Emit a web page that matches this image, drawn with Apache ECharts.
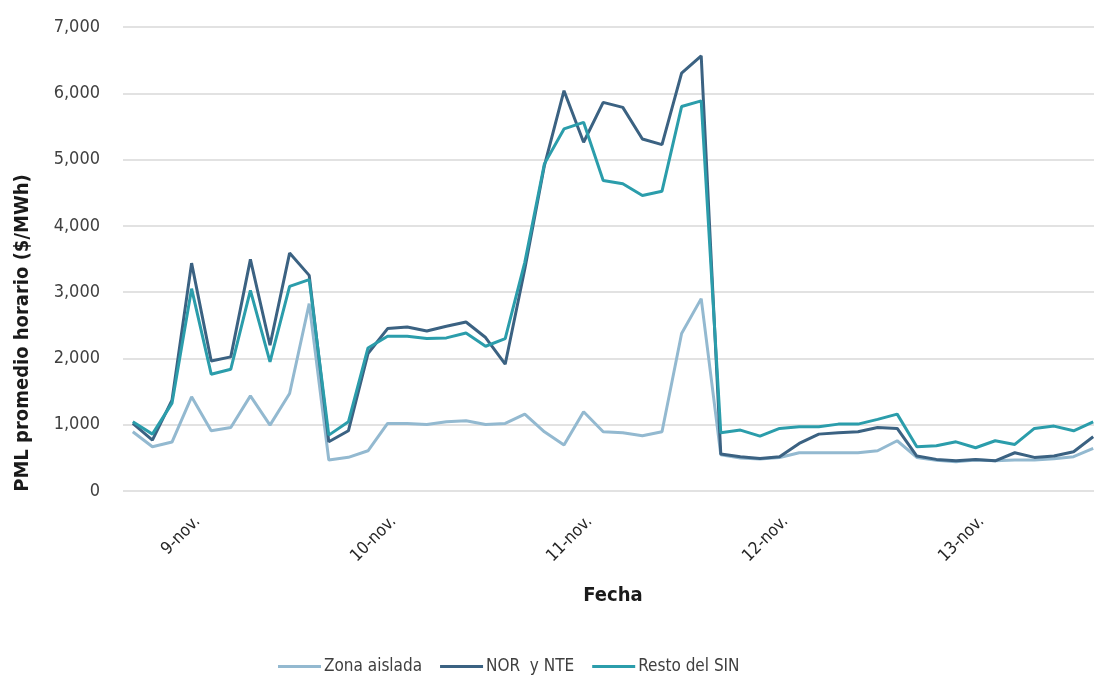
<!DOCTYPE html>
<html>
<head>
<meta charset="utf-8">
<script src="https://cdn.jsdelivr.net/npm/echarts@6/dist/echarts.min.js"></script>
<style>html,body{margin:0;padding:0;background:#fff;}#c{width:1094px;height:675px;}</style>
</head>
<body>
<div id="c"></div>
<script>
// Day labels and number of readings per day
const days = ['9-nov.', '10-nov.', '11-nov.', '12-nov.', '13-nov.'];
const perDay = 10;
const labelOffset = 3;
const yTicks = [0, 1000, 2000, 3000, 4000, 5000, 6000, 7000];

const zonaAislada = [893, 667, 738, 1420, 908, 959, 1435, 994, 1471, 2827,
  467, 508, 607, 1019, 1019, 1004, 1044, 1059, 1004, 1019,
  1160, 893, 693, 1195, 893, 878, 833, 893, 2375, 2902,
  545, 497, 482, 505, 577, 577, 577, 577, 607, 758,
  507, 462, 442, 467, 456, 467, 467, 487, 517, 643];
const norNte = [1020, 768, 1370, 3438, 1962, 2023, 3494, 2199, 3589, 3253,
  742, 908, 2074, 2450, 2475, 2414, 2485, 2550, 2315, 1913,
  3350, 4910, 6039, 5261, 5863, 5788, 5311, 5226, 6305, 6566,
  557, 517, 492, 517, 718, 858, 878, 893, 959, 944,
  527, 477, 456, 477, 456, 577, 507, 527, 592, 818];
const restoSin = [1044, 858, 1325, 3053, 1762, 1837, 3027, 1947, 3087, 3188,
  843, 1044, 2158, 2334, 2334, 2300, 2310, 2384, 2184, 2300,
  3450, 4935, 5462, 5562, 4684, 4634, 4458, 4523, 5800, 5886,
  878, 919, 828, 944, 968, 968, 1009, 1009, 1080, 1160,
  667, 682, 742, 652, 758, 703, 944, 979, 908, 1044];

const categories = [];
days.forEach(d => { for (let k = 0; k < perDay; k++) categories.push(d + '|' + k); });

const font = "'Liberation Sans Narrow', 'DejaVu Sans Condensed', 'Liberation Sans', sans-serif";
const colors = ['#93b9d0', '#3b6282', '#2b9dab'];

const chart = echarts.init(document.getElementById('c'), null, {renderer: 'canvas'});
chart.setOption({
  animation: false,
  color: colors,
  textStyle: {fontFamily: font},
  grid: {left: 123, top: 27, width: 980, height: 464, containLabel: false, outerBoundsMode: 'none'},
  legend: {
    left: 273, top: 653,
    icon: 'rect', itemWidth: 43, itemHeight: 3, itemGap: 18,
    textStyle: {fontFamily: font, fontSize: 17, color: '#404040', padding: [0, 0, 0, -2]},
    data: ['Zona aislada', 'NOR  y NTE', 'Resto del SIN']
  },
  xAxis: {
    type: 'category',
    data: categories,
    boundaryGap: true,
    name: 'Fecha',
    nameLocation: 'middle',
    nameGap: 95,
    nameTextStyle: {fontFamily: font, fontSize: 20, fontWeight: 'bold', color: '#1a1a1a'},
    axisLine: {show: false},
    axisTick: {show: false},
    axisLabel: {
      interval: (i) => i % perDay === labelOffset,
      rotate: 45,
      margin: 22,
      fontSize: 17,
      color: '#262626',
      fontFamily: font,
      verticalAlign: 'top',
      formatter: (v) => v.split('|')[0]
    },
    splitLine: {show: false}
  },
  yAxis: {
    type: 'value',
    min: yTicks[0], max: yTicks[yTicks.length - 1], interval: 1000,
    name: 'PML promedio horario ($/MWh)',
    nameLocation: 'middle',
    nameGap: 90,
    nameTextStyle: {fontFamily: font, fontSize: 20, fontWeight: 'bold', color: '#1a1a1a', padding: [0, 148, 0, 0]},
    axisLine: {show: false},
    axisTick: {show: false},
    axisLabel: {
      margin: 23, fontSize: 18, color: '#404040', fontFamily: font,
      formatter: (v) => v.toLocaleString('en-US')
    },
    splitLine: {lineStyle: {color: '#d9d9d9', width: 1.5}}
  },
  series: [
    {name: 'Zona aislada', type: 'line', data: zonaAislada, showSymbol: false, symbol: 'none', lineStyle: {width: 3, color: colors[0]}},
    {name: 'NOR  y NTE', type: 'line', data: norNte, showSymbol: false, symbol: 'none', lineStyle: {width: 3, color: colors[1]}},
    {name: 'Resto del SIN', type: 'line', data: restoSin, showSymbol: false, symbol: 'none', lineStyle: {width: 3, color: colors[2]}}
  ]
});
</script>
</body>
</html>
